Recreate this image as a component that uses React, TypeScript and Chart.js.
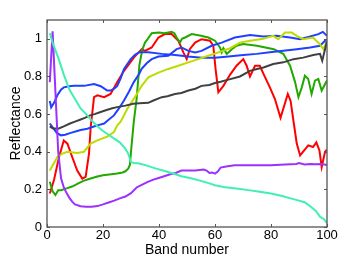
import React, { useEffect, useRef } from "react";
import { Chart, registerables } from "chart.js";

Chart.register(...registerables);

const xTicks = [0, 20, 40, 60, 80, 100];
const yTicks = [0, 0.2, 0.4, 0.6, 0.8, 1];

const cyanBands = [1, 2, 4, 6, 8, 10, 12, 14, 16, 18, 20, 22, 24, 26, 28, 29, 30, 31, 33, 36, 39, 42, 45, 48, 51, 55, 58, 60, 63, 66, 69, 72, 76, 80, 84, 87, 90, 92, 94, 96, 97.5, 99, 100];
const cyanValues = [1.03, 0.98, 0.9, 0.81, 0.73, 0.68, 0.63, 0.6, 0.565, 0.535, 0.51, 0.49, 0.47, 0.45, 0.415, 0.39, 0.345, 0.34, 0.337, 0.325, 0.31, 0.298, 0.284, 0.27, 0.26, 0.245, 0.232, 0.222, 0.213, 0.207, 0.202, 0.196, 0.187, 0.178, 0.165, 0.152, 0.14, 0.132, 0.11, 0.085, 0.055, 0.04, 0.02];

const purpleBands = [1, 2, 3, 4, 5, 6, 7, 8, 9, 10, 12, 14, 16, 18, 20, 22, 24, 26, 28, 30, 32, 34, 36, 38, 41, 44, 46, 48, 50, 53, 56, 57, 58, 59, 60, 61, 62, 64, 67, 72, 80, 85, 89, 90, 92, 94, 96, 98, 100];
const purpleValues = [0.77, 1.04, 0.72, 0.4, 0.26, 0.21, 0.18, 0.155, 0.135, 0.12, 0.11, 0.107, 0.108, 0.111, 0.12, 0.13, 0.14, 0.152, 0.162, 0.18, 0.21, 0.225, 0.24, 0.252, 0.266, 0.28, 0.287, 0.3, 0.3, 0.3, 0.305, 0.3, 0.287, 0.29, 0.284, 0.295, 0.316, 0.322, 0.328, 0.328, 0.328, 0.332, 0.335, 0.34, 0.332, 0.335, 0.333, 0.335, 0.33];

const greenBands = [1, 2, 3, 4, 5, 7, 9, 11, 13, 15, 18, 20, 23, 25, 27, 28, 29, 29.6, 30, 30.5, 31, 32, 33, 34, 35, 36, 37.4, 40, 42, 44.5, 45.5, 46.3, 47.5, 48.2, 49.3, 51.7, 55, 57.6, 60, 61.8, 62.4, 63, 64.2, 66, 67.7, 70, 75, 81, 84.4, 86.8, 88.6, 89.8, 91, 92.1, 93.3, 94.5, 95.7, 96.9, 98.1, 100];
const greenValues = [0.24, 0.19, 0.17, 0.195, 0.195, 0.205, 0.215, 0.23, 0.245, 0.255, 0.268, 0.275, 0.28, 0.284, 0.29, 0.296, 0.31, 0.33, 0.4, 0.48, 0.56, 0.68, 0.86, 0.94, 0.98, 1.0, 1.03, 1.033, 1.03, 1.037, 1.03, 1.007, 0.98, 1.0, 1.007, 1.025, 1.016, 1.007, 0.99, 0.954, 0.928, 0.95, 0.92, 0.945, 0.963, 0.972, 0.963, 0.945, 0.92, 0.857, 0.77, 0.69, 0.742, 0.804, 0.787, 0.707, 0.778, 0.787, 0.725, 0.778];

const redBands = [1, 2.5, 4.3, 6, 7.3, 9, 10.8, 12.6, 13.8, 15, 15.6, 16.8, 18, 20.4, 22.7, 25.1, 27.5, 31, 33.8, 35, 37.4, 39.8, 42.1, 44.5, 46.9, 48.7, 49.9, 51, 52.9, 55.2, 58.2, 59.4, 60.2, 61.2, 63, 65.4, 67.7, 70.1, 71.3, 72.5, 74.3, 76, 77.9, 79.6, 81.4, 83.4, 86, 87, 88, 89.2, 90.4, 91.5, 93.3, 95, 96.2, 97.3, 98.1, 99.3, 100];
const redValues = [0.178, 0.25, 0.372, 0.46, 0.443, 0.372, 0.3, 0.257, 0.266, 0.39, 0.53, 0.69, 0.7, 0.69, 0.707, 0.77, 0.83, 0.9, 0.945, 0.936, 0.954, 1.007, 1.025, 1.025, 0.99, 0.928, 0.892, 0.945, 0.98, 0.998, 0.99, 0.963, 0.84, 0.716, 0.75, 0.81, 0.857, 0.892, 0.857, 0.8, 0.857, 0.857, 0.795, 0.742, 0.68, 0.58, 0.707, 0.67, 0.566, 0.443, 0.38, 0.4, 0.434, 0.425, 0.45, 0.407, 0.319, 0.4, 0.41];

const yellowBands = [1, 3.7, 5.5, 7.3, 10.8, 13.2, 15.6, 18, 21.5, 23.9, 25.1, 26.3, 28.7, 31.4, 33.8, 36.2, 39.8, 43.3, 46.9, 50.5, 54, 57.6, 61.2, 65.4, 68.9, 72.5, 77.2, 80.8, 82.6, 85, 87.4, 89.2, 91.5, 95, 97.5, 98.7, 100];
const yellowValues = [0.3, 0.372, 0.39, 0.4, 0.393, 0.4, 0.443, 0.46, 0.48, 0.504, 0.54, 0.56, 0.628, 0.69, 0.75, 0.795, 0.82, 0.84, 0.857, 0.875, 0.892, 0.91, 0.928, 0.95, 0.98, 0.99, 1.0, 1.016, 0.998, 1.033, 1.033, 1.016, 0.998, 1.007, 0.97, 0.945, 0.99];

const grayBands = [1, 2, 4, 6, 8.2, 10, 11.8, 13.5, 15.4, 17, 18.9, 21, 23, 25, 28, 30.8, 33, 36.2, 38, 41, 43, 45.7, 48, 50.5, 53, 55.2, 58, 60, 62, 64.8, 68.9, 72.5, 75, 77.3, 80.8, 84.4, 88, 91.5, 95.1, 97.5, 98.3, 99.3, 100];
const grayValues = [0.535, 0.525, 0.522, 0.535, 0.55, 0.56, 0.57, 0.58, 0.593, 0.6, 0.61, 0.62, 0.63, 0.637, 0.645, 0.655, 0.658, 0.66, 0.672, 0.69, 0.695, 0.707, 0.712, 0.725, 0.735, 0.75, 0.755, 0.765, 0.772, 0.783, 0.8, 0.83, 0.84, 0.848, 0.866, 0.875, 0.892, 0.9, 0.914, 0.92, 0.884, 0.945, 0.99];

const blueABands = [1, 1.5, 2.5, 3.7, 5, 6, 8, 9.6, 13.2, 16.8, 19.2, 20.5, 21.5, 22.7, 24, 25.1, 26.3, 27.5, 29.9, 31.4, 33, 36.2, 41, 45.7, 50.5, 55.2, 60, 64.8, 70.1, 74.9, 79.6, 84.4, 89.2, 94, 97.5, 99.3, 100];
const blueAValues = [0.67, 0.636, 0.66, 0.7, 0.73, 0.742, 0.748, 0.75, 0.75, 0.76, 0.748, 0.735, 0.725, 0.725, 0.735, 0.75, 0.79, 0.84, 0.892, 0.915, 0.928, 0.928, 0.92, 0.914, 0.906, 0.9, 0.9, 0.906, 0.914, 0.92, 0.928, 0.936, 0.945, 0.954, 0.963, 0.99, 0.98];

const blueBBands = [1, 3.5, 5, 6.5, 8.5, 10.8, 12, 14.4, 17, 18, 20.4, 22, 23.9, 25.7, 27.5, 29.3, 31, 32.9, 33.8, 35.6, 37.4, 39.8, 43.3, 46.3, 48.1, 50.5, 52.9, 55.2, 58.8, 62.4, 67.1, 72.5, 77.3, 82, 86.8, 90.4, 94, 96.9, 98.5, 100];
const blueBValues = [0.55, 0.5, 0.487, 0.49, 0.5, 0.51, 0.515, 0.522, 0.535, 0.54, 0.55, 0.57, 0.593, 0.63, 0.672, 0.72, 0.77, 0.813, 0.84, 0.87, 0.892, 0.906, 0.91, 0.945, 0.954, 0.936, 0.928, 0.936, 0.963, 0.98, 1.007, 1.02, 1.012, 1.016, 1.007, 0.998, 1.012, 1.025, 1.037, 1.016];

const seriesList = [
  { bands: cyanBands, values: cyanValues, color: "#40F0B0" },
  { bands: purpleBands, values: purpleValues, color: "#9B30FF" },
  { bands: grayBands, values: grayValues, color: "#404040" },
  { bands: yellowBands, values: yellowValues, color: "#BCDC00" },
  { bands: blueABands, values: blueAValues, color: "#2040FF" },
  { bands: blueBBands, values: blueBValues, color: "#2040FF" },
  { bands: greenBands, values: greenValues, color: "#22A800" },
  { bands: redBands, values: redValues, color: "#FF0000" },
];

const frameColor = "#555555";

const framePlugin = {
  id: "matlabFrame",
  afterDraw(chart: any) {
    const { ctx, chartArea, scales } = chart;
    const { left, right, top, bottom } = chartArea;
    ctx.save();
    ctx.strokeStyle = frameColor;
    ctx.lineWidth = 1.3;
    ctx.strokeRect(left, top, right - left, bottom - top);
    const tl = 3;
    ctx.lineWidth = 1;
    ctx.beginPath();
    for (const v of xTicks) {
      const px = Math.round(scales.x.getPixelForValue(v)) + 0.5;
      ctx.moveTo(px, bottom);
      ctx.lineTo(px, bottom - tl);
      ctx.moveTo(px, top);
      ctx.lineTo(px, top + tl);
    }
    for (const v of yTicks) {
      const py = Math.round(scales.y.getPixelForValue(v)) + 0.5;
      ctx.moveTo(left, py);
      ctx.lineTo(left + tl, py);
      ctx.moveTo(right, py);
      ctx.lineTo(right - tl, py);
    }
    ctx.stroke();
    ctx.restore();
  },
};

export default function App() {
  const ref = useRef<HTMLCanvasElement | null>(null);
  useEffect(() => {
    if (!ref.current) return;
    const chart = new Chart(ref.current, {
      type: "line",
      data: {
        datasets: seriesList.map((s) => ({
          data: s.bands.map((b, i) => ({ x: b, y: s.values[i] })),
          borderColor: s.color,
          backgroundColor: s.color,
          borderWidth: 2,
          pointRadius: 0,
          tension: 0,
          fill: false,
        })),
      },
      options: {
        animation: false,
        responsive: false,
        devicePixelRatio: 1,
        layout: { padding: { left: 0, right: 35, top: 20, bottom: 0 } },
        plugins: { legend: { display: false }, tooltip: { enabled: false } },
        scales: {
          x: {
            type: "linear",
            min: 0,
            max: 100,
            afterFit(scale: any) {
              scale.height = 32;
            },
            afterBuildTicks(scale: any) {
              scale.ticks = xTicks.map((v) => ({ value: v }));
            },
            grid: { display: false, drawTicks: false },
            border: { display: false },
            ticks: {
              padding: 1,
              maxRotation: 0,
              color: "#000",
              font: { family: "Liberation Sans, Arial, sans-serif", size: 13 },
              callback: (v: any) => String(v),
            },
            title: {
              display: true,
              text: "Band number",
              color: "#000",
              font: { family: "Liberation Sans, Arial, sans-serif", size: 14 },
              padding: { top: 0, bottom: 0.6 },
            },
          },
          y: {
            type: "linear",
            min: 0,
            max: 1.1,
            afterFit(scale: any) {
              scale.width = 47;
            },
            afterBuildTicks(scale: any) {
              scale.ticks = yTicks.map((v) => ({ value: v }));
            },
            grid: { display: false, drawTicks: false },
            border: { display: false },
            ticks: {
              padding: 5,
              color: "#000",
              font: { family: "Liberation Sans, Arial, sans-serif", size: 13 },
              callback: (v: any) => String(Math.round(v * 10) / 10),
            },
            title: {
              display: true,
              text: "Reflectance",
              color: "#000",
              font: { family: "Liberation Sans, Arial, sans-serif", size: 14 },
              padding: { top: 7.6, bottom: 0 },
            },
          },
        },
      },
      plugins: [framePlugin],
    });
    return () => chart.destroy();
  }, []);
  return (
    <div style={{ position: "fixed", left: 0, top: 0, width: 362, height: 259, background: "#fff" }}>
      <canvas ref={ref} width={362} height={259} style={{ width: 362, height: 259, display: "block" }} />
    </div>
  );
}
